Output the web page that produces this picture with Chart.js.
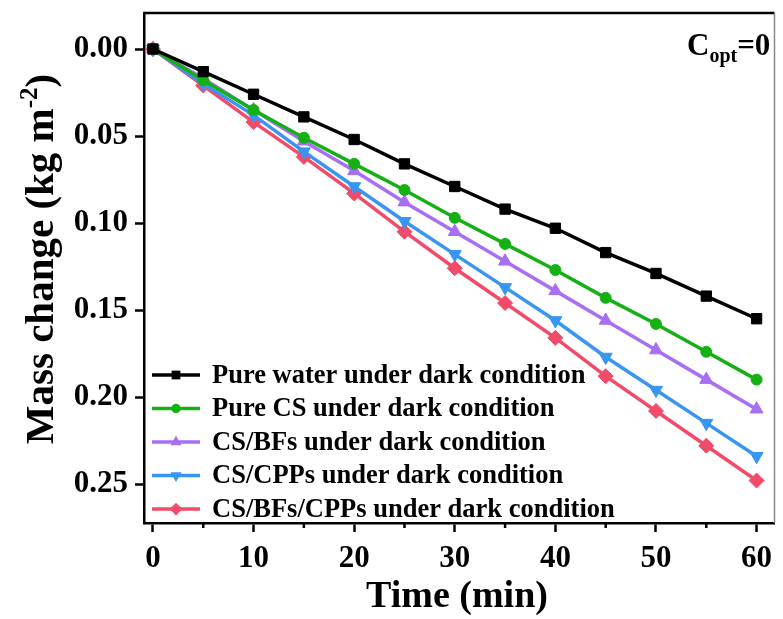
<!DOCTYPE html>
<html lang="en">
<head>
    <meta charset="UTF-8">
    <title>Mass change under dark condition</title>
    <script src="https://cdn.jsdelivr.net/npm/chart.js"></script>
    <style>
        html, body { margin: 0; padding: 0; background: #fff; }
    </style>
</head>
<body>
    <canvas id="myChart" width="783" height="619"></canvas>

<script>
    // data
    const times = [0, 5, 10, 15, 20, 25, 30, 35, 40, 45, 50, 55, 60]
    const pureWater = [0, 0.013, 0.026, 0.039, 0.052, 0.066, 0.079, 0.092, 0.103, 0.117, 0.129, 0.142, 0.155]
    const pureCS = [0, 0.018, 0.035, 0.051, 0.066, 0.081, 0.097, 0.112, 0.127, 0.143, 0.158, 0.174, 0.190]
    const csBFs = [0, 0.017, 0.035, 0.053, 0.070, 0.088, 0.105, 0.122, 0.139, 0.156, 0.173, 0.190, 0.207]
    const csCPPs = [0, 0.020, 0.038, 0.059, 0.079, 0.099, 0.118, 0.137, 0.156, 0.177, 0.196, 0.215, 0.234]
    const csBFsCPPs = [0, 0.021, 0.042, 0.062, 0.083, 0.105, 0.126, 0.146, 0.166, 0.188, 0.208, 0.228, 0.248]

    const seriesLabels = [
        'Pure water under dark condition',
        'Pure CS under dark condition',
        'CS/BFs under dark condition',
        'CS/CPPs under dark condition',
        'CS/BFs/CPPs under dark condition'
    ]
    const xMajorTicks = [0, 10, 20, 30, 40, 50, 60]
    const xMinorTicks = [5, 15, 25, 35, 45, 55]
    const yTicks = [0, 0.05, 0.10, 0.15, 0.20, 0.25]

    const SERIF = '"Liberation Serif", "Times New Roman", serif'

    function makeSet(label, values, color, style, radius, rotation) {
        return {
            label: label,
            data: times.map((t, i) => ({ x: t, y: values[i] })),
            borderColor: color,
            backgroundColor: color,
            borderWidth: 3.5,
            pointStyle: style,
            pointRadius: radius,
            pointRotation: rotation || 0,
            pointBorderWidth: 1,
            pointBorderColor: color,
            pointBackgroundColor: color,
            tension: 0
        }
    }

    const datasets = [
        makeSet(seriesLabels[0], pureWater, '#000000', 'rect', 7.3),
        makeSet(seriesLabels[1], pureCS, '#14b014', 'circle', 5.5),
        makeSet(seriesLabels[2], csBFs, '#a86ff2', 'triangle', 7.5),
        makeSet(seriesLabels[3], csCPPs, '#3896f2', 'triangle', 7.5, 180),
        makeSet(seriesLabels[4], csBFsCPPs, '#f24b69', 'rectRot', 7.5)
    ]

    function drawMarker(ctx, style, x, y, r, rot) {
        ctx.save()
        ctx.translate(x, y)
        ctx.rotate((rot || 0) * Math.PI / 180)
        ctx.beginPath()
        if (style === 'circle') {
            ctx.arc(0, 0, r, 0, Math.PI * 2)
        } else if (style === 'rect') {
            const s = r * Math.SQRT1_2
            ctx.rect(-s, -s, 2 * s, 2 * s)
        } else if (style === 'rectRot') {
            ctx.moveTo(0, -r); ctx.lineTo(r, 0); ctx.lineTo(0, r); ctx.lineTo(-r, 0)
        } else if (style === 'triangle') {
            for (let k = 0; k < 3; k++) {
                const a = k * 2 * Math.PI / 3
                const px = Math.sin(a) * r, py = -Math.cos(a) * r
                if (k === 0) ctx.moveTo(px, py); else ctx.lineTo(px, py)
            }
        }
        ctx.closePath()
        ctx.fill()
        ctx.restore()
    }

    // frame, minor ticks, inside legend, axis titles, annotation
    const extras = {
        id: 'extras',
        afterDraw(chart) {
            const { ctx, chartArea: a, scales: { x } } = chart
            ctx.save()

            ctx.strokeStyle = '#000'
            ctx.lineWidth = 2.5
            ctx.beginPath(); ctx.moveTo(a.left - 1, a.top); ctx.lineTo(a.right, a.top); ctx.stroke()
            ctx.strokeStyle = '#8a8a8a'
            ctx.lineWidth = 1.5
            ctx.beginPath(); ctx.moveTo(a.right, a.top); ctx.lineTo(a.right, a.bottom); ctx.stroke()

            ctx.strokeStyle = '#000'
            ctx.lineWidth = 2.5
            xMinorTicks.forEach(v => {
                const px = x.getPixelForValue(v)
                ctx.beginPath(); ctx.moveTo(px, a.bottom); ctx.lineTo(px, a.bottom + 5); ctx.stroke()
            })

            // legend
            ctx.font = 'bold 26.5px ' + SERIF
            ctx.textBaseline = 'middle'
            ctx.textAlign = 'left'
            chart.data.datasets.forEach((ds, i) => {
                const ly = a.bottom - 148 + i * 33.5
                ctx.strokeStyle = ds.borderColor
                ctx.lineWidth = 3.5
                ctx.beginPath(); ctx.moveTo(a.left + 8, ly); ctx.lineTo(a.left + 56, ly); ctx.stroke()
                ctx.fillStyle = ds.borderColor
                drawMarker(ctx, ds.pointStyle, a.left + 32, ly, ds.pointRadius * 0.85, ds.pointRotation)
                ctx.fillStyle = '#000'
                ctx.fillText(ds.label, a.left + 68, ly + 1)
            })

            // C_opt = 0
            ctx.fillStyle = '#000'
            ctx.textBaseline = 'alphabetic'
            let cx = 687
            ctx.font = 'bold 31px ' + SERIF
            ctx.fillText('C', cx, 55)
            cx += ctx.measureText('C').width
            ctx.font = 'bold 20px ' + SERIF
            ctx.fillText('opt', cx, 62)
            cx += ctx.measureText('opt').width
            ctx.font = 'bold 31px ' + SERIF
            ctx.fillText('=0', cx, 55)

            // x title
            ctx.font = 'bold 38px ' + SERIF
            ctx.textAlign = 'center'
            ctx.textBaseline = 'middle'
            ctx.fillText('Time (min)', 457, 597)

            // y title with superscript
            ctx.save()
            ctx.translate(39, 259)
            ctx.rotate(-Math.PI / 2)
            ctx.textAlign = 'left'
            ctx.textBaseline = 'alphabetic'
            const bigFont = 'bold 41px ' + SERIF
            const supFont = 'bold 25px ' + SERIF
            const p1 = 'Mass change (kg m', sup = '-2', p2 = ')'
            ctx.font = bigFont
            const w1 = ctx.measureText(p1).width, w3 = ctx.measureText(p2).width
            ctx.font = supFont
            const w2 = ctx.measureText(sup).width
            let tx = -(w1 + w2 + w3) / 2
            const base = 14
            ctx.font = bigFont
            ctx.fillText(p1, tx, base)
            tx += w1
            ctx.font = supFont
            ctx.fillText(sup, tx, base - 16)
            tx += w2
            ctx.font = bigFont
            ctx.fillText(p2, tx, base)
            ctx.restore()

            ctx.restore()
        }
    }

    const ctx = document.getElementById('myChart')

    const config = {
        type: 'line',
        data: { datasets: datasets },
        options: {
            responsive: false,
            animation: false,
            layout: { padding: { top: 13, right: -4, left: 0, bottom: 0 } },
            plugins: {
                legend: { display: false },
                tooltip: { enabled: false }
            },
            scales: {
                x: {
                    type: 'linear',
                    min: -0.89,
                    max: 61.78,
                    afterBuildTicks: scale => { scale.ticks = xMajorTicks.map(v => ({ value: v })) },
                    afterFit: scale => {
                        scale.height = 96
                        scale.paddingLeft = 0
                        scale.paddingRight = 0
                    },
                    grid: { drawOnChartArea: false, drawTicks: true, tickLength: 9, tickColor: '#000', tickWidth: 2.5 },
                    border: { display: true, color: '#000', width: 2.5 },
                    ticks: {
                        color: '#000',
                        padding: 8,
                        maxRotation: 0,
                        font: { family: SERIF, size: 31, weight: 'bold' },
                        callback: v => String(v)
                    }
                },
                y: {
                    type: 'linear',
                    reverse: true,
                    min: -0.0207,
                    max: 0.2724,
                    afterBuildTicks: scale => { scale.ticks = yTicks.map(v => ({ value: v })) },
                    afterFit: scale => {
                        scale.width = 144
                        scale.paddingTop = 0
                        scale.paddingBottom = 0
                    },
                    grid: { drawOnChartArea: false, drawTicks: true, tickLength: 9, tickColor: '#000', tickWidth: 2.5 },
                    border: { display: true, color: '#000', width: 2.5 },
                    ticks: {
                        color: '#000',
                        padding: 7,
                        font: { family: SERIF, size: 31, weight: 'bold' },
                        callback: v => Number(v).toFixed(2)
                    }
                }
            }
        },
        plugins: [extras]
    }
    window.mass_chart = new Chart(ctx, config)
</script>
</body>
</html>
